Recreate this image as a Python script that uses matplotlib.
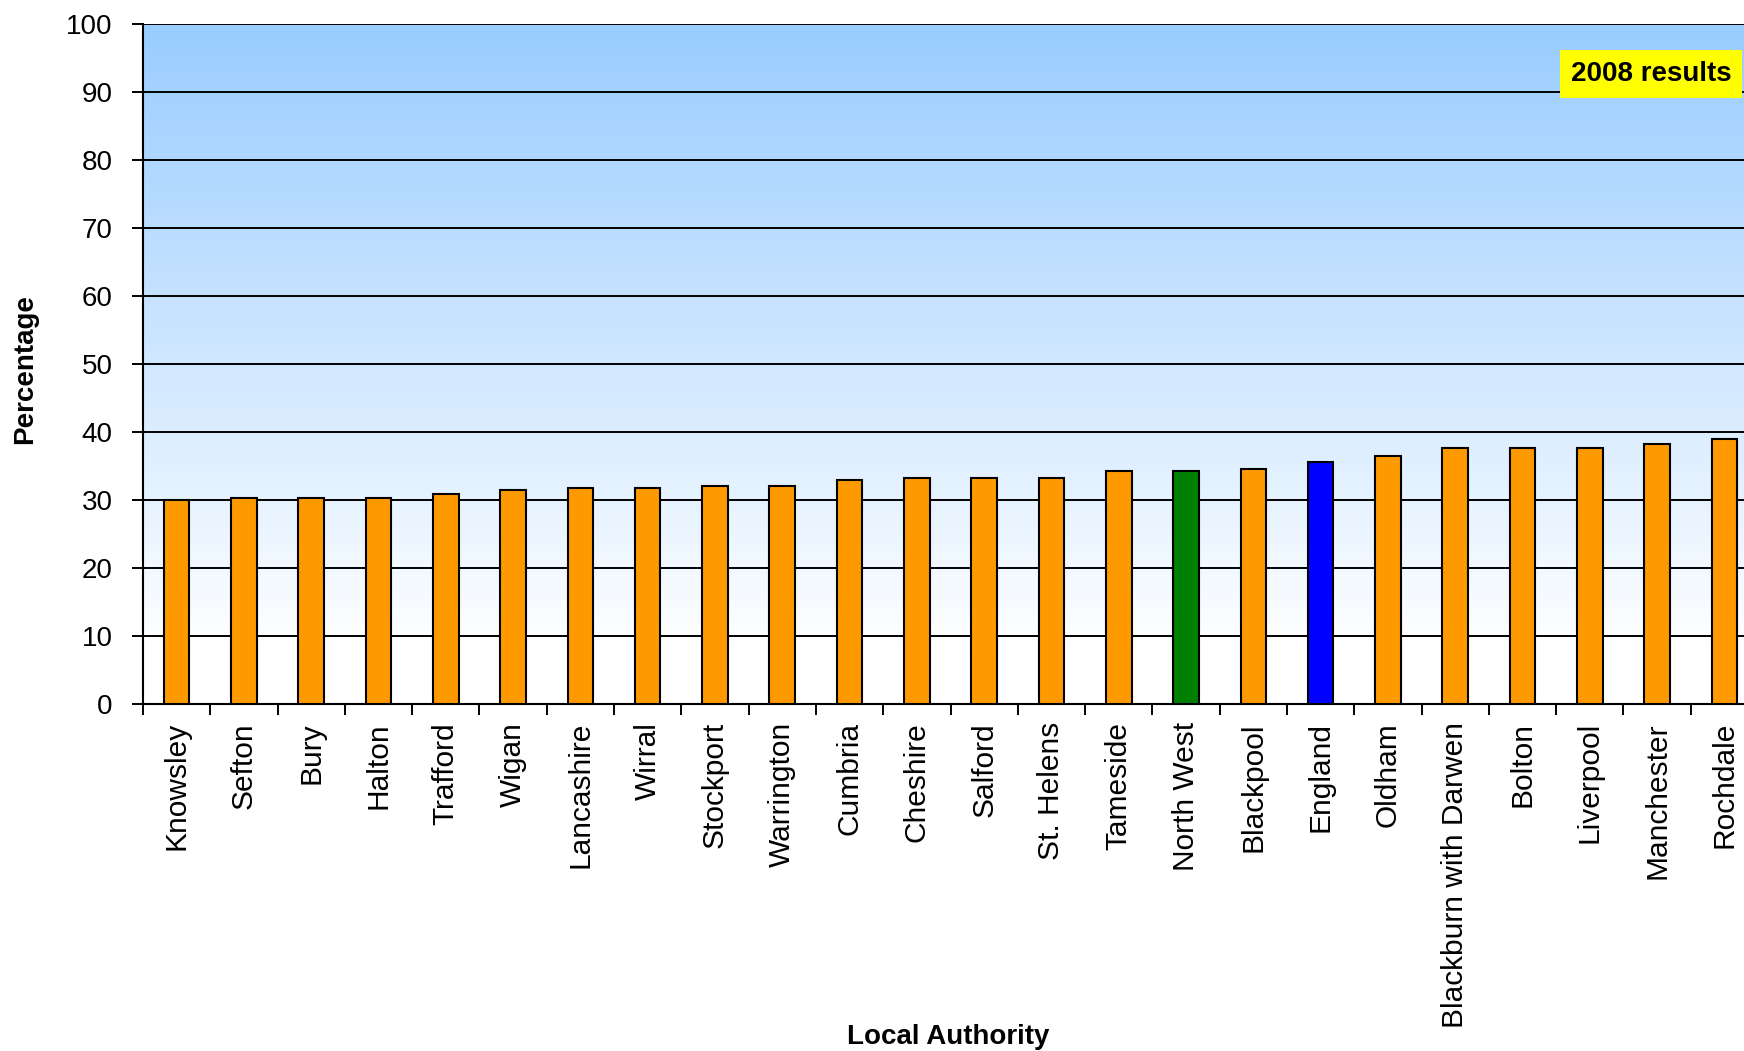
import numpy as np
import matplotlib.pyplot as plt
from matplotlib.ticker import FixedLocator

authorities = ["Knowsley", "Sefton", "Bury", "Halton", "Trafford", "Wigan",
               "Lancashire", "Wirral", "Stockport", "Warrington", "Cumbria",
               "Cheshire", "Salford", "St. Helens", "Tameside", "North West",
               "Blackpool", "England", "Oldham", "Blackburn with Darwen",
               "Bolton", "Liverpool", "Manchester", "Rochdale"]
percent = [30.0, 30.3, 30.3, 30.3, 30.9, 31.5, 31.8, 31.8, 32.1, 32.1,
           32.9, 33.3, 33.3, 33.3, 34.2, 34.2, 34.5, 35.6, 36.5, 37.7,
           37.7, 37.7, 38.3, 38.9]
yticks = list(range(0, 101, 10))

colours = []
for name in authorities:
    if name == "North West":
        colours.append("#008000")
    elif name == "England":
        colours.append("#0000FF")
    else:
        colours.append("#FF9900")

plt.rcParams["font.family"] = ["Liberation Sans", "DejaVu Sans"]

W, H = 1744, 1051
fig = plt.figure(figsize=(W / 100, H / 100), dpi=100)
# plot area runs past the right edge, like the cropped original
ax = fig.add_axes([143 / W, 1 - 704 / H, 1615 / W, 680 / H])

n = len(authorities)
x = np.arange(n)

# blue-to-white background gradient (white near the bottom)
yy = np.linspace(0, 100, 400)
frac = np.clip((yy - 8) / 92, 0, 1).reshape(-1, 1, 1)
top = np.array([0x99, 0xCC, 0xFF]) / 255
img = np.ones((400, 1, 3)) * (1 - frac) + top * frac
ax.imshow(img, extent=[-0.5, n - 0.5, 0, 100], origin="lower",
          aspect="auto", zorder=0)

ax.bar(x, percent, width=0.38, color=colours, edgecolor="black",
       linewidth=1.5, zorder=3)

ax.set_xlim(-0.5, n - 0.5)
ax.set_ylim(0, 100)
ax.set_yticks(yticks)
ax.yaxis.grid(True, color="black", linewidth=1.4)
ax.set_axisbelow(True)

ax.set_xticks(x)
ax.set_xticklabels(authorities, rotation=90, ha="center", va="top")
ax.xaxis.set_minor_locator(FixedLocator(np.arange(n + 1) - 0.5))
ax.tick_params(axis="x", which="major", length=0, pad=13, labelsize=21.5)
ax.tick_params(axis="x", which="minor", length=8, width=1.4, direction="out")
ax.tick_params(axis="y", length=8, width=1.4, pad=14, labelsize=20)

for s in ["top", "right"]:
    ax.spines[s].set_visible(False)
for s in ["left", "bottom"]:
    ax.spines[s].set_linewidth(1.5)
    ax.spines[s].set_color("black")

fig.text(25 / W, 1 - 369 / H, "Percentage", rotation=90, ha="center",
         va="center", fontsize=20, fontweight="bold")
fig.text(948 / W, 1 - 1037 / H, "Local Authority", ha="center",
         va="center", fontsize=20, fontweight="bold")
fig.text(1651 / W, 1 - 74 / H, "2008 results", ha="center", va="center",
         fontsize=20, fontweight="bold",
         bbox=dict(facecolor="#FFFF00", edgecolor="none", pad=8))

fig.savefig("out.png", dpi=100)
